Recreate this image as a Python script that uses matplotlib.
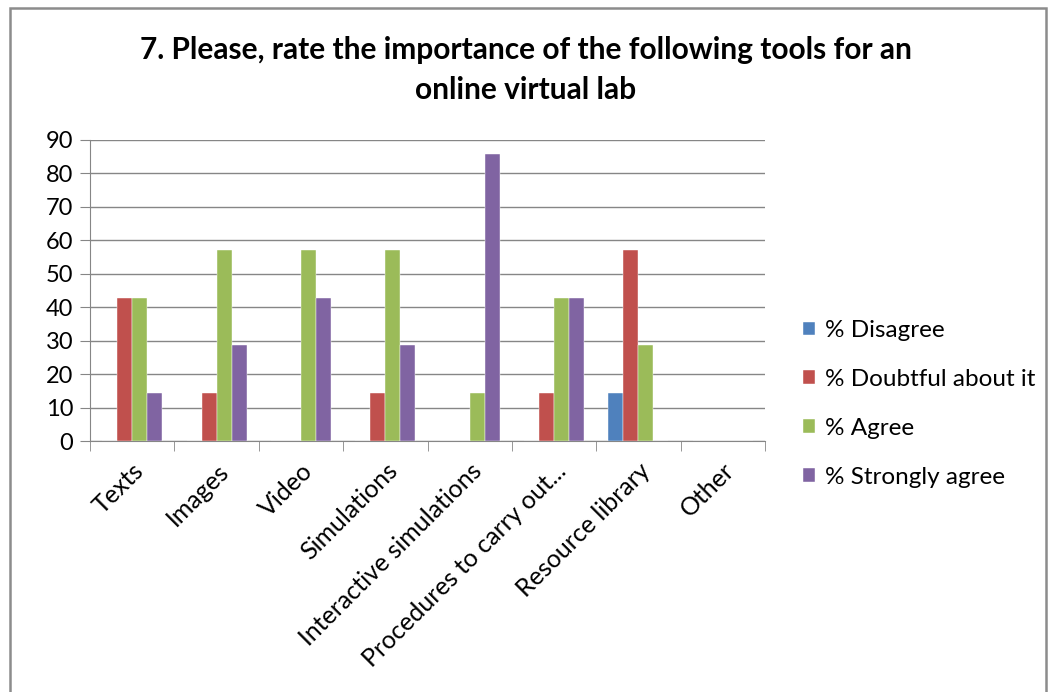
import numpy as np
import matplotlib
matplotlib.use("Agg")
import matplotlib.pyplot as plt
from matplotlib.patches import Rectangle

plt.rcParams["font.family"] = ["Lato", "DejaVu Sans"]

categories = ["Texts", "Images", "Video", "Simulations", "Interactive simulations",
              "Procedures to carry out...", "Resource library", "Other"]
series = ["% Disagree", "% Doubtful about it", "% Agree", "% Strongly agree"]
disagree = [0, 0, 0, 0, 0, 0, 14.29, 0]
doubtful = [42.86, 14.29, 0, 14.29, 0, 14.29, 57.14, 0]
agree = [42.86, 57.14, 57.14, 57.14, 14.29, 42.86, 28.57, 0]
strongly = [14.29, 28.57, 42.86, 28.57, 85.71, 42.86, 0, 0]
colors = ["#4F81BD", "#C0504D", "#9BBB59", "#8064A2"]

fig = plt.figure(figsize=(10.52, 6.92), dpi=100)
ax = fig.add_axes([90 / 1052, 1 - 441 / 692, 675 / 1052, 301 / 692])

x = np.arange(len(categories))
w = 0.178
for i, (vals, name) in enumerate(zip([disagree, doubtful, agree, strongly], series)):
    ax.bar(x + (i - 1.5) * w, vals, w, color=colors[i], label=name, zorder=3,
           edgecolor="white", linewidth=0.3)

ax.set_xlim(-0.5, len(categories) - 0.5)
ax.set_ylim(0, 90)
ax.set_yticks(range(0, 91, 10))
ax.yaxis.grid(True, color="#868686", lw=1, zorder=0)
for s in ["top", "right"]:
    ax.spines[s].set_visible(False)
for s in ["left", "bottom"]:
    ax.spines[s].set_color("#868686")
ax.tick_params(axis="y", length=7, color="#868686", labelsize=17, pad=5)
ax.set_xticks(x)
ax.set_xticklabels(categories, rotation=45, ha="right", rotation_mode="anchor", fontsize=18)
ax.tick_params(axis="x", which="major", length=0, pad=13)
ax.set_xticks(np.arange(-0.5, len(categories)), minor=True)
ax.tick_params(axis="x", which="minor", length=7, color="#868686")

fig.text(0.5, 1 - 70 / 692, "7. Please, rate the importance of the following tools for an\nonline virtual lab",
         ha="center", va="center", fontsize=21.5, fontweight="bold", linespacing=1.5)

fig.legend(loc="center left", bbox_to_anchor=(803 / 1052, 1 - 404 / 692), frameon=False, fontsize=17.5,
           handlelength=0.5, handleheight=0.5, handletextpad=0.4, labelspacing=1.15,
           borderpad=0, borderaxespad=0, bbox_transform=fig.transFigure)

fig.patches.append(Rectangle((10 / 1052, -0.01), 1036 / 1052, 1 - 8 / 692 + 0.01,
                             transform=fig.transFigure, fill=False, ec="#8c8c8c", lw=1.8))

fig.savefig("out.png", dpi=100)
